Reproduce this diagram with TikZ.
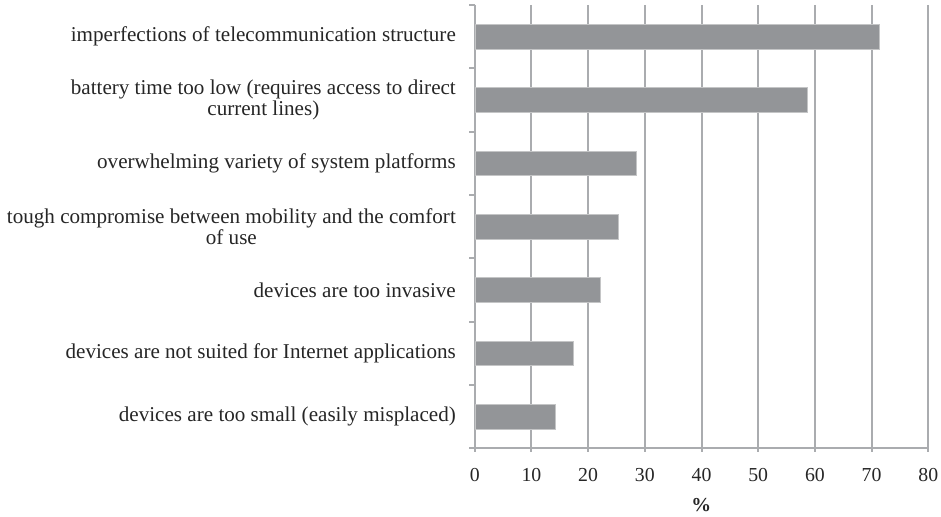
\documentclass[tikz,border=0pt]{standalone}
\usepackage{fontspec}
\setmainfont{Liberation Serif}
\usepackage{xcolor}
\usetikzlibrary{calc}
\usetikzlibrary{positioning}

\definecolor{barfill}{RGB}{147,149,152}
\definecolor{gridgray}{RGB}{170,172,175}

\begin{document}
\begin{tikzpicture}[x=1pt, y=-1pt, font=\fontsize{21.1}{21.7}\selectfont]
	\tikzstyle{grid}=[draw=gridgray, line width=2pt]
	\tikzstyle{bar}=[fill=barfill, draw=barfill!55, line width=0.6pt]
	\tikzstyle{cat}=[anchor=east, align=center, inner sep=0pt, text=black!85]
	\tikzstyle{num}=[anchor=center, inner sep=0pt, text=black!85, font=\fontsize{19.8}{21}\selectfont]
	\useasboundingbox (0,0) rectangle (941,516);

	% vertical grid lines and x labels
	\foreach \v in {0,10,...,80} {
		\draw[grid] (474.7+5.67*\v,5) -- (474.7+5.67*\v,452);
		\node[num] (x\v) at (474.7+5.67*\v,475) {\v};
	}
	\node[num] (unit) at (701.3,505) {\textbf{\%}};

	% axes with ticks
	\draw[grid] (474.7,5) -- (474.7,448.3) -- (928.3,448.3);
	\foreach \k in {0,...,7}
		\draw[grid] (469,5+63.33*\k) -- (474.7,5+63.33*\k);

	% bars
	\foreach \i/\v in {1/71.4,2/58.7,3/28.5,4/25.3,5/22.2,6/17.4,7/14.2} {
		\pgfmathsetmacro{\cy}{5+63.33*(\i-0.5)}
		\draw[bar] (475.7,\cy-12.2) rectangle (474.7+5.67*\v,\cy+12.2);
	}

	% category labels
	\node[cat] (c1) at (456,36.7)  {imperfections of telecommunication structure};
	\node[cat] (c2) at (456,100)   {battery time too low (requires access to direct\\current lines)};
	\node[cat] (c3) at (456,163.3) {overwhelming variety of system platforms};
	\node[cat] (c4) at (456,226.7) {tough compromise between mobility and the comfort\\of use};
	\node[cat] (c5) at (456,290)   {devices are too invasive};
	\node[cat] (c6) at (456,353.3) {devices are not suited for Internet applications};
	\node[cat] (c7) at (456,416.7) {devices are too small (easily misplaced)};
\end{tikzpicture}
\end{document}
